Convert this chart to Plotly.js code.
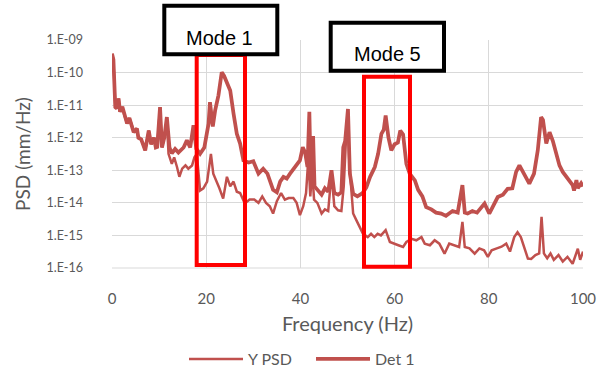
<!DOCTYPE html>
<html>
<head>
<meta charset="utf-8">
<script src="https://cdn.plot.ly/plotly-3.0.1.min.js"></script>
<style>html,body{margin:0;padding:0;background:#fff;}#chart{width:598px;height:372px;}</style>
</head>
<body>
<div id="chart"></div>
<script>
// ---- Data ----
const det1Freq = [0.0,0.3,0.7,1.0,1.4,1.7,2.2,2.6,3.2,3.7,4.2,4.6,5.3,5.6,6.2,7.05,7.8,8.3,8.9,9.3,9.6,10.2,10.6,11.1,11.65,12.2,12.7,13.4,14.1,15.2,15.9,16.6,17.3,17.9,18.7,19.6,20.5,20.8,21.4,21.9,22.6,23.3,23.8,24.3,25.1,25.8,26.5,27.2,27.9,29.0,30.0,31.1,32.1,33.0,33.5,34.2,35.0,35.7,36.4,37.1,37.8,38.5,39.2,39.9,40.5,41.0,41.5,41.9,42.2,42.7,43.0,43.8,44.5,45.2,45.9,46.6,47.2,48.0,48.7,49.1,49.5,50.1,50.5,51.2,52.1,53.2,54.0,54.8,55.8,56.5,57.2,57.7,58.1,58.7,59.3,60.0,60.7,61.2,61.8,62.5,63.2,64.3,65.0,65.9,66.7,67.8,68.8,69.9,70.9,72.3,73.4,74.4,74.9,75.5,76.5,77.5,78.3,79.1,80.1,81.0,81.9,83.0,84.0,85.0,85.8,86.5,87.2,87.9,88.6,89.6,90.4,91.1,91.5,92.2,92.9,93.6,94.3,95.0,95.7,96.4,97.1,97.8,98.1,98.6,98.9,99.6,100];
const det1Psd = [3.8e-10,2.5e-10,8.7e-12,7.9e-12,1.6e-11,6.3e-12,8.9e-12,5.0e-12,2.75e-12,4.0e-12,2.5e-12,1.48e-12,1.9e-12,1.0e-12,8.9e-13,4.1e-13,1.66e-12,6.3e-13,1.0e-12,5.0e-13,5.2e-13,8.7e-12,5.0e-13,1.0e-12,4.3e-12,5.0e-13,3.3e-13,4.5e-13,3.5e-13,5.0e-13,8.3e-13,5.0e-13,2.4e-12,4.6e-13,3.2e-13,5.0e-13,2.7e-12,1.23e-11,2.2e-12,6.9e-12,2.0e-11,1.02e-10,7.9e-11,5.0e-11,2.8e-11,5.5e-12,1.32e-12,6.6e-13,2.0e-13,1.74e-13,1.9e-13,7.9e-14,1.12e-13,7.9e-14,4.9e-14,2.5e-14,2.1e-14,4.5e-14,6.3e-14,5.6e-14,7.9e-14,1.12e-13,1.41e-13,2.0e-13,5.1e-13,3.5e-13,1.26e-13,6.2e-12,5.6e-14,1.12e-12,3.2e-14,2.4e-14,1.78e-14,2.8e-14,2.2e-14,1.0e-13,2.0e-14,1.78e-14,2.1e-14,5.1e-13,7.9e-13,7.6e-12,7.9e-14,1.9e-14,1.58e-14,2.0e-14,3.0e-14,6.3e-14,1.26e-13,3.2e-13,1.32e-12,1.78e-12,4.8e-12,1.0e-12,4.1e-13,6.3e-13,7.1e-13,1.66e-12,1.26e-12,1.58e-13,7.9e-14,4.9e-14,2.5e-14,1.58e-14,7.4e-15,6.3e-15,5.0e-15,4.7e-15,4.0e-15,5.6e-15,5.0e-15,3.5e-14,5.0e-15,4.7e-15,5.6e-15,5.0e-15,7.1e-15,9.5e-15,4.7e-15,7.9e-15,1.51e-14,1.78e-14,2.7e-14,2.8e-14,8.9e-14,1.41e-13,8.9e-14,6.3e-14,3.9e-14,7.9e-14,4.1e-13,4.3e-12,3.5e-12,6.6e-13,1.48e-12,7.9e-13,3.2e-13,1.41e-13,8.9e-14,6.3e-14,5.0e-14,3.5e-14,2.4e-14,5.0e-14,2.8e-14,4.0e-14,3.2e-14];

const yPsdFreq = [0.0,0.3,0.7,1.0,1.4,1.7,2.2,2.6,3.2,3.7,4.2,4.6,5.3,5.6,6.2,7.05,7.8,8.3,8.9,9.3,9.6,10.2,10.6,11.1,11.65,12.0,12.7,13.2,13.8,14.3,14.9,15.6,16.2,17.0,17.5,18.0,18.7,19.4,20.2,21.0,21.5,22.1,22.8,23.6,24.4,25.1,25.8,26.5,27.2,28.2,29.2,30.2,31.1,31.9,32.7,33.5,34.2,35.0,35.9,36.7,37.5,38.5,39.2,39.9,40.6,41.2,41.7,42.1,42.5,42.9,43.6,44.5,45.2,45.9,46.6,47.2,48.0,48.7,49.2,49.6,50.0,50.4,51.2,51.9,52.6,53.3,54.3,55.0,55.7,56.4,57.1,58.1,59.0,60.1,60.8,61.8,62.5,63.6,64.6,65.7,66.4,67.5,68.5,69.5,70.6,71.6,72.7,73.7,74.4,74.9,75.9,77.0,78.0,79.0,79.8,80.6,81.7,82.7,83.7,84.5,85.4,86.1,86.8,87.5,88.3,89.0,89.9,90.7,91.2,91.7,92.4,93.1,93.8,94.8,95.7,96.7,97.8,98.9,99.4,100];
const yPsd = [3.8e-10,2.5e-10,8.7e-12,7.9e-12,1.6e-11,6.3e-12,8.9e-12,5.0e-12,2.75e-12,4.0e-12,2.5e-12,1.48e-12,1.9e-12,1.0e-12,8.9e-13,4.1e-13,1.66e-12,6.3e-13,1.0e-12,5.0e-13,5.2e-13,8.7e-12,5.0e-13,1.0e-12,3.2e-12,3.2e-13,1.58e-13,2.5e-13,1.26e-13,6.3e-14,1.12e-13,1.41e-13,1.12e-13,1.41e-13,2.5e-13,3.2e-13,2.4e-14,2.8e-14,4.5e-14,3.2e-13,7.9e-14,5.0e-14,2.8e-14,1.35e-14,6.3e-14,3.2e-14,4.5e-14,2.2e-14,2.0e-14,9.5e-15,1.26e-14,1.26e-14,1.0e-14,1.58e-14,1.0e-14,7.9e-15,4.7e-15,1.12e-14,2.0e-14,1.26e-14,1.41e-14,1.41e-14,1.0e-14,4.2e-15,7.9e-15,2.0e-14,2.5e-13,1.58e-14,1.0e-13,1.26e-14,1.0e-14,4.7e-15,6.3e-15,5.6e-15,7.9e-14,7.9e-15,5.9e-15,5.6e-15,3.2e-14,5.1e-13,5.0e-12,1.58e-13,4.7e-15,2.9e-15,1.78e-15,1.12e-15,8.9e-16,1.12e-15,8.9e-16,1.12e-15,1.0e-15,1.45e-15,6.3e-16,5.6e-16,5.0e-16,4.4e-16,6.3e-16,7.9e-16,7.1e-16,8.9e-16,5.6e-16,5.0e-16,7.1e-16,5.6e-16,2.75e-16,5.6e-16,5.0e-16,4.4e-16,2.6e-15,4.4e-16,4.0e-16,2.75e-16,4.0e-16,3.5e-16,2.2e-16,3.5e-16,4.0e-16,4.5e-16,5.6e-16,3.2e-16,8.9e-16,1.26e-15,8.9e-16,4.5e-16,1.95e-16,1.9e-16,2.5e-16,2.8e-16,3.7e-15,2.8e-16,2.0e-16,2.8e-16,1.78e-16,2.5e-16,1.58e-16,2.2e-16,1.35e-16,3.9e-16,1.78e-16,3.2e-16];

const yTickVals = [1e-16,1e-15,1e-14,1e-13,1e-12,1e-11,1e-10,1e-9];
const yTickText = ["1.E-16","1.E-15","1.E-14","1.E-13","1.E-12","1.E-11","1.E-10","1.E-09"];
const xTickVals = [0,20,40,60,80,100];
const seriesNames = ["Y PSD","Det 1"];
const modeLabels = ["Mode 1","Mode 5"];

// ---- Layout helpers (pixel -> paper) ----
const W = 598, H = 372, ML = 112, MR = 15, MT = 40, MB = 104;
const PW = W - ML - MR, PH = H - MT - MB;
const px = v => (v - ML) / PW;
const py = v => (H - MB - v) / PH;

const lineColor = "#C0504D";
const gridColor = "#D9D9D9";
const textGray = "#595959";
const font = "Lato, 'Open Sans', sans-serif";

const traces = [
  {x: yPsdFreq, y: yPsd, name: seriesNames[0], type: "scatter", mode: "lines",
   line: {color: lineColor, width: 2.5}},
  {x: det1Freq, y: det1Psd, name: seriesNames[1], type: "scatter", mode: "lines",
   line: {color: lineColor, width: 3.75}}
];

function box(x0, y0, x1, y1, color, fill) {
  return {type: "rect", xref: "paper", yref: "paper", layer: "above",
    x0: px(x0), x1: px(x1), y0: py(y1), y1: py(y0),
    line: {color: color, width: 4}, fillcolor: fill || "rgba(0,0,0,0)"};
}

const layout = {
  width: W, height: H,
  margin: {l: ML, r: MR, t: MT, b: MB, pad: 0, autoexpand: false},
  paper_bgcolor: "#fff", plot_bgcolor: "#fff",
  showlegend: true,
  legend: {orientation: "h", xref: "container", yref: "container",
    x: 311 / W, xanchor: "center", y: 1 - 359 / H, yanchor: "middle",
    itemwidth: 54, entrywidth: 58,
    font: {family: font, size: 16, color: textGray}, traceorder: "normal"},
  xaxis: {range: [0, 100], tickvals: xTickVals, showgrid: true, gridcolor: gridColor, gridwidth: 1,
    zeroline: false, showline: false, ticks: "", ticklabelstandoff: 20, automargin: false,
    tickfont: {family: font, size: 15, color: textGray},
    title: {text: "Frequency (Hz)", font: {family: font, size: 20, color: textGray}, standoff: 10},
    fixedrange: true},
  yaxis: {type: "log", range: [-16, -9], tickvals: yTickVals, ticktext: yTickText,
    showgrid: true, gridcolor: gridColor, gridwidth: 1, zeroline: false, showline: false, ticks: "",
    ticklabelstandoff: 28, automargin: false, tickfont: {family: font, size: 12.5, color: textGray},
    title: {text: "PSD (mm/Hz)", font: {family: font, size: 19, color: textGray}, standoff: 10},
    fixedrange: true},
  shapes: [
    {type: "line", xref: "paper", yref: "paper", x0: 0, x1: 1, y0: 0, y1: 0, layer: "below", line: {color: gridColor, width: 1}},
    box(196.7, 55, 245, 265, "#FF0000"),
    box(364, 76.7, 410, 266.7, "#FF0000"),
    box(164.3, 5.7, 277.3, 54.3, "#000000", "#FFFFFF"),
    box(330.7, 22.7, 444, 70.7, "#000000", "#FFFFFF")
  ],
  annotations: [
    {xref: "paper", yref: "paper", x: px(219.5), y: py(38), text: modeLabels[0], showarrow: false,
     xanchor: "center", yanchor: "middle", font: {family: "'Liberation Sans', Arial, sans-serif", size: 20, color: "#000"}},
    {xref: "paper", yref: "paper", x: px(387), y: py(54), text: modeLabels[1], showarrow: false,
     xanchor: "center", yanchor: "middle", font: {family: "'Liberation Sans', Arial, sans-serif", size: 20, color: "#000"}}
  ]
};

Plotly.newPlot("chart", traces, layout, {displayModeBar: false, staticPlot: true});
</script>
</body>
</html>
